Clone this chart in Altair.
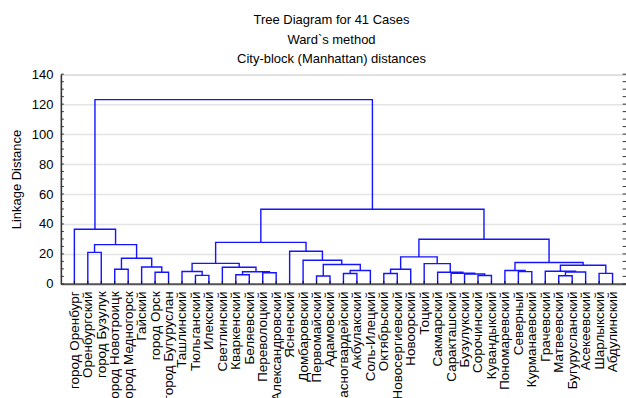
import json

import altair as alt
import pandas as pd

# Leaf order along the horizontal axis
leaves = [
    "город Оренбург", "Оренбургский", "город Бузулук", "город Новотроицк",
    "город Медногорск", "Гайский", "город Орск", "город Бугуруслан",
    "Ташлинский", "Тюльганский", "Илекский", "Светлинский", "Кваркенский",
    "Беляевский", "Переволоцкий", "Александровский", "Ясненский",
    "Домбаровский", "Первомайский", "Адамовский", "Красногвардейский",
    "Акбулакский", "Соль-Илецкий", "Октябрьский", "Новосергиевский",
    "Новоорский", "Тоцкий", "Сакмарский", "Саракташский", "Бузулукский",
    "Сорочинский", "Кувандыкский", "Пономаревский", "Северный",
    "Курманаевский", "Грачевский", "Матвеевский", "Бугурусланский",
    "Асекеевский", "Шарлыкский", "Абдулинский",
]

# Agglomeration steps: (left, right, linkage distance).
# Integers are leaf indices, "cN" is the cluster formed at step N.
merge_left = [1, 3, 6, 5, "c2", "c1", 0, 9, 8, 12, 14, "c10", 11, "c9",
              18, 20, "c16", "c15", 17, 16, "c14", 23, "c22", 30, 29, 28,
              27, 26, "c23", 33, 32, 36, "c32", 35, 39, "c34", "c31", "c29",
              "c21", "c7"]
merge_right = [2, 4, 7, "c3", "c4", "c5", "c6", 10, "c8", 13, 15, "c11",
               "c12", "c13", 19, 21, 22, "c17", "c18", "c19", "c20", 24, 25,
               31, "c24", "c25", "c26", "c27", "c28", 34, "c30", 37, 38,
               "c33", 40, "c35", "c36", "c37", "c38", "c39"]
merge_height = [21.0, 9.8, 7.8, 11.3, 17.1, 26.2, 36.5, 5.7, 8.3, 6.1, 7.4,
                8.1, 11.1, 13.7, 5.3, 6.9, 8.9, 12.9, 15.8, 21.8, 27.7, 6.9,
                9.8, 5.6, 6.6, 7.1, 7.8, 13.5, 18.0, 8.2, 8.9, 5.4, 7.9, 8.4,
                7.0, 12.4, 14.3, 29.8, 49.8, 123.0]

y_ticks = [0, 20, 40, 60, 80, 100, 120, 140]
minor_ticks = list(range(0, 141, 5))
title_lines = ["Tree Diagram for 41 Cases", "Ward`s method",
               "City-block (Manhattan) distances"]
y_title = "Linkage Distance"

FONT = "Liberation Sans"
LINE = "#1414ff"

# Build the bracket paths: each merge is drawn as an upside-down "U"
pos = {i: i + 1 for i in range(len(leaves))}
hgt = {i: 0.0 for i in range(len(leaves))}
rows = []
for k, (a, b, h) in enumerate(zip(merge_left, merge_right, merge_height), start=1):
    name = f"c{k}"
    xa, xb = pos[a], pos[b]
    for j, (x, y) in enumerate([(xa, hgt[a]), (xa, h), (xb, h), (xb, hgt[b])]):
        rows.append({"link": name, "step": j, "x": x, "h": y})
    pos[name] = (xa + xb) / 2
    hgt[name] = h

links = pd.DataFrame(rows)
leaf_df = pd.DataFrame({"x": list(range(1, len(leaves) + 1))})
minor_df = pd.DataFrame({"h": minor_ticks})

x_scale = alt.Scale(domain=[0, 42], nice=False, zero=False)
y_scale = alt.Scale(domain=[0, 140], nice=False, zero=True)

label_expr = json.dumps(leaves, ensure_ascii=False) + "[datum.value - 1]"

# One axis definition per channel, shared by every layer
x_axis = alt.Axis(
    values=list(range(1, len(leaves) + 1)), labelExpr=label_expr,
    labelAngle=270, labelPadding=7, ticks=False, tickSize=0,
    labelOverlap=False, labelLimit=0, labelFlush=False, grid=False,
    title=None, domainColor="#555555", domainWidth=2,
    labelFont=FONT, labelFontSize=13.5, labelColor="#000000",
)
y_axis = alt.Axis(
    values=y_ticks, grid=True, gridColor="#e4e4e4", gridWidth=1.5,
    ticks=False, tickSize=0, labelPadding=8, title=y_title,
    titlePadding=8, domainColor="#333333", domainWidth=1.5,
    labelFont=FONT, labelFontSize=13, labelColor="#000000",
    titleFont=FONT, titleFontSize=13, titleFontWeight="normal",
    titleColor="#000000",
)

tree = alt.Chart(links).mark_line(
    color=LINE, strokeWidth=1.4, strokeJoin="miter", interpolate="linear"
).encode(
    x=alt.X("x:Q", scale=x_scale, axis=x_axis),
    y=alt.Y("h:Q", scale=y_scale, axis=y_axis),
    detail="link:N",
    order="step:Q",
)

# Small inward ticks on the left and right frame
left_ticks = alt.Chart(minor_df).mark_rule(color="#333333", strokeWidth=1).encode(
    y=alt.Y("h:Q", scale=y_scale, axis=y_axis),
    x=alt.X(datum=0, scale=x_scale, axis=x_axis),
    x2=alt.X2(datum=0.22),
)
right_ticks = alt.Chart(minor_df).mark_rule(color="#333333", strokeWidth=1).encode(
    y=alt.Y("h:Q", scale=y_scale, axis=y_axis),
    x=alt.X(datum=41.75, scale=x_scale, axis=x_axis),
    x2=alt.X2(datum=42),
)

# Short inward ticks at each leaf on the baseline
leaf_ticks = alt.Chart(leaf_df).mark_rule(color="#111111", strokeWidth=1).encode(
    x=alt.X("x:Q", scale=x_scale, axis=x_axis),
    y=alt.Y(datum=0, scale=y_scale, axis=y_axis),
    y2=alt.Y2(datum=2),
)

chart = alt.layer(tree, left_ticks, right_ticks, leaf_ticks).properties(
    width=566,
    height=210,
    background="white",
    title=alt.TitleParams(
        text=title_lines, anchor="middle", fontSize=13, font=FONT,
        fontWeight="normal", color="#000000", lineHeight=19.5, offset=7,
        dx=-12, dy=5,
    ),
    autosize=alt.AutoSizeParams(type="none"),
    padding={"left": 61, "top": 74, "right": 0, "bottom": 114},
).configure_view(
    stroke="#333333", strokeWidth=1
)

chart.save("out.html", embed_options={"renderer": "svg", "actions": False})
